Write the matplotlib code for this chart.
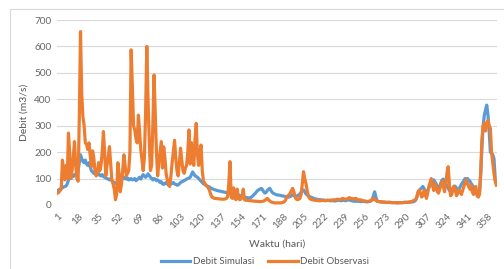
import matplotlib
matplotlib.use('Agg')
import matplotlib.pyplot as plt
from matplotlib.lines import Line2D

# daily discharge (m3/s), day 1..365
debit_simulasi = [
    55, 57, 60, 62, 65, 68, 70, 72, 80, 95,
    105, 100, 110, 108, 115, 112, 120, 130, 160, 190,
    175, 165, 160, 170, 155, 150, 160, 145, 130, 125,
    120, 118, 122, 115, 120, 112, 110, 115, 108, 105,
    102, 100, 98, 95, 100, 92, 88, 85, 82, 80,
    78, 80, 85, 95, 100, 105, 100, 98, 102, 95,
    98, 100, 95, 97, 100, 92, 96, 100, 105, 98,
    108, 115, 110, 105, 110, 118, 112, 105, 100, 95,
    100, 98, 92, 95, 90, 85, 88, 80, 78, 82,
    85, 80, 75, 78, 80, 82, 85, 80, 78, 75,
    76, 80, 85, 88, 90, 92, 95, 98, 100, 102,
    105, 115, 125, 118, 110, 108, 105, 100, 95, 90,
    85, 80, 78, 75, 72, 70, 68, 65, 62, 60,
    58, 57, 55, 54, 53, 52, 51, 50, 49, 48,
    47, 46, 46, 45, 45, 44, 43, 42, 41, 40,
    38, 36, 35, 33, 32, 30, 29, 28, 27, 27,
    28, 30, 35, 40, 44, 50, 55, 58, 60, 63,
    58, 50, 45, 48, 55, 60, 63, 55, 48, 44,
    42, 40, 38, 38, 37, 36, 35, 34, 33, 32,
    31, 30, 30, 32, 35, 38, 36, 34, 33, 35,
    38, 42, 48, 55, 57, 50, 42, 38, 35, 32,
    30, 28, 26, 24, 23, 22, 21, 20, 20, 19,
    19, 18, 18, 17, 18, 17, 16, 16, 17, 16,
    15, 16, 17, 18, 17, 16, 17, 18, 17, 16,
    18, 20, 19, 17, 16, 15, 14, 14, 15, 14,
    14, 13, 13, 14, 13, 13, 12, 12, 13, 14,
    15, 20, 35, 50, 30, 15, 13, 12, 12, 11,
    11, 11, 10, 10, 10, 10, 10, 9, 9, 9,
    9, 9, 9, 9, 9, 9, 9, 10, 10, 10,
    10, 10, 11, 11, 12, 12, 14, 18, 30, 45,
    55, 60, 65, 70, 62, 50, 45, 55, 65, 75,
    85, 90, 95, 88, 80, 70, 62, 70, 85, 95,
    98, 90, 80, 75, 65, 55, 50, 55, 65, 72,
    70, 62, 55, 60, 70, 78, 85, 92, 100, 98,
    100, 95, 90, 82, 75, 68, 60, 50, 40, 35,
    50, 120, 220, 300, 340, 360, 378, 340, 280, 200,
    195, 190, 175, 100, 80,
]

debit_observasi = [
    45, 48, 55, 60, 170, 130, 95, 150, 100, 272,
    200, 100, 130, 180, 240, 150, 100, 90, 330, 656,
    420, 334, 300, 235, 230, 210, 235, 190, 145, 205,
    180, 130, 110, 120, 160, 130, 150, 200, 278, 200,
    110, 150, 180, 221, 160, 95, 80, 60, 20, 40,
    160, 120, 50, 80, 130, 190, 150, 110, 120, 130,
    200, 587, 450, 300, 284, 250, 235, 340, 280, 210,
    170, 130, 180, 350, 600, 400, 250, 130, 150, 300,
    492, 350, 200, 110, 160, 200, 240, 140, 220, 180,
    120, 95, 80, 70, 110, 160, 200, 245, 180, 130,
    110, 160, 215, 170, 130, 120, 140, 150, 200, 284,
    155, 236, 180, 150, 250, 309, 190, 150, 200, 227,
    130, 90, 83, 75, 70, 65, 55, 40, 30, 28,
    25, 25, 24, 24, 23, 23, 22, 22, 22, 23,
    25, 30, 80, 164, 30, 25, 65, 25, 20, 60,
    25, 20, 22, 30, 60, 20, 18, 18, 17, 17,
    16, 16, 15, 15, 14, 14, 14, 13, 13, 13,
    14, 15, 18, 22, 25, 20, 15, 12, 10, 9,
    8, 8, 8, 8, 8, 8, 9, 10, 12, 18,
    28, 35, 38, 45, 55, 63, 50, 30, 22, 20,
    22, 25, 40, 80, 126, 100, 82, 55, 35, 25,
    22, 20, 19, 18, 18, 17, 17, 16, 16, 17,
    18, 17, 16, 17, 18, 17, 18, 19, 18, 20,
    19, 20, 22, 21, 20, 22, 24, 25, 22, 21,
    23, 25, 28, 24, 25, 23, 22, 25, 24, 20,
    19, 20, 18, 17, 16, 15, 14, 13, 14, 15,
    18, 22, 25, 20, 17, 15, 14, 13, 12, 12,
    11, 11, 10, 10, 10, 10, 10, 9, 9, 9,
    9, 8, 8, 8, 9, 9, 9, 9, 10, 10,
    10, 11, 11, 12, 14, 16, 18, 20, 30, 50,
    57, 45, 30, 35, 55, 40, 25, 45, 70, 85,
    100, 75, 55, 80, 70, 50, 45, 60, 75, 90,
    70, 50, 80, 120, 145, 80, 35, 40, 60, 70,
    55, 35, 45, 57, 50, 40, 55, 70, 85, 95,
    80, 70, 60, 75, 50, 40, 55, 70, 35, 30,
    40, 120, 250, 300, 310, 280, 310, 320, 300, 290,
    200, 160, 120, 90, 75,
]

hari = list(range(1, len(debit_simulasi) + 1))
tick_hari = list(range(1, 366, 17))

plt.rcParams['font.family'] = ['Lato', 'DejaVu Sans']
fig = plt.figure(figsize=(5.04, 2.69), dpi=100)
ax = fig.add_axes([57 / 504, 1 - 205 / 269, 440 / 504, 185 / 269])

ax.plot(hari, debit_simulasi, color='#5B9BD5', linewidth=2.3, label='Debit Simulasi',
        solid_joinstyle='round', zorder=3)
ax.plot(hari, debit_observasi, color='#ED7D31', linewidth=2.3, label='Debit Observasi',
        solid_joinstyle='round', zorder=4)

ax.set_xlim(0.5, 365.5)
ax.set_ylim(0, 700)
ax.set_yticks(range(0, 701, 100))
ax.set_xticks(tick_hari)
ax.set_xticklabels([str(t) for t in tick_hari], rotation=45, ha='right', va='top',
                   rotation_mode='anchor')
ax.grid(axis='y', color='#D9D9D9', linewidth=0.8, zorder=0)
ax.set_axisbelow(True)
for s in ax.spines.values():
    s.set_visible(False)
ax.tick_params(axis='both', length=0, labelsize=7.2, colors='#666666', pad=4)
ax.tick_params(axis='x', pad=5)

ax.set_ylabel('Debit (m3/s)', fontsize=7.5, color='#595959', labelpad=4)
ax.set_xlabel('Waktu (hari)', fontsize=7.5, color='#595959', labelpad=6)

fig.legend(loc='center', bbox_to_anchor=(265 / 504, 1 - 262 / 269), ncol=2, frameon=False,
           fontsize=7, labelcolor='#595959', handlelength=3.0, handletextpad=0.3,
           columnspacing=1.5, borderpad=0)

# chart area border
fig.add_artist(Line2D([10 / 504, 10 / 504], [0, 1 - 9 / 269], color='#D9D9D9', linewidth=0.8))
fig.add_artist(Line2D([10 / 504, 1], [1 - 9 / 269, 1 - 9 / 269], color='#D9D9D9', linewidth=0.8))

fig.savefig('out.png', dpi=100)
